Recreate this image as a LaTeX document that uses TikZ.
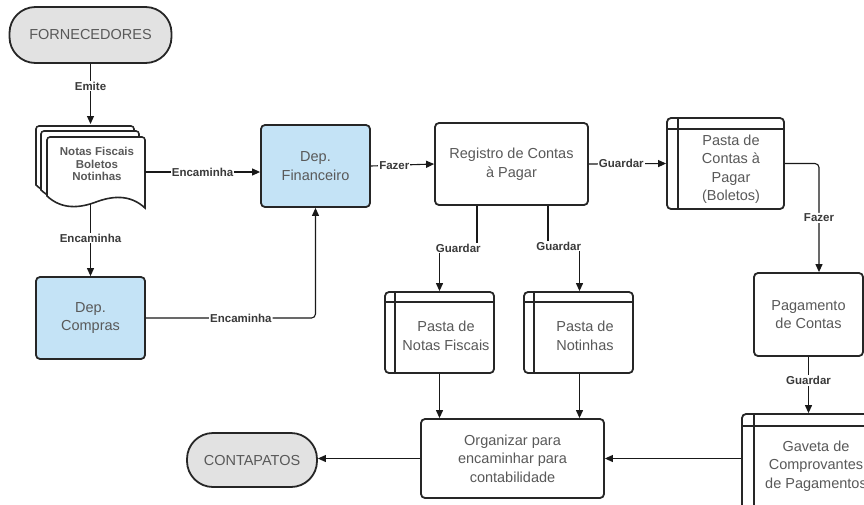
\documentclass[tikz,border=0pt]{standalone}
\usepackage{fontspec}
\setmainfont{Liberation Sans}
\usetikzlibrary{arrows.meta}
\definecolor{edge}{HTML}{262626}
\definecolor{ink}{HTML}{595959}
\definecolor{lblink}{HTML}{3A3A3A}
\definecolor{deptblue}{HTML}{C4E3F6}
\definecolor{termgray}{HTML}{E2E2E2}

\begin{document}
\begin{tikzpicture}[x=1pt,y=-1pt,
  box/.style={draw=edge, line width=1.8pt, rounded corners=4pt, fill=white,
    inner sep=0pt, align=center, text=ink, font=\fontsize{14.5}{18.5}\selectfont},
  dept/.style={box, fill=deptblue},
  term/.style={box, fill=termgray, rounded corners=26pt},
  inner/.style={draw=edge, line width=1.8pt},
  conn/.style={draw=black!90, line width=1.1pt, -{Triangle[length=8pt,width=7pt]}},
  lbl/.style={fill=white, inner sep=1pt, text=lblink,
    font=\fontsize{11.5}{13}\selectfont\bfseries},
  plain/.style={inner sep=0pt, align=center, text=ink,
    font=\fontsize{14.5}{18.5}\selectfont},
  docsheet/.pic={
    \draw[draw=edge, line width=1.6pt, fill=white]
      (0,59) [rounded corners=3pt] -- (0,0) -- (98,0) -- (98,10) [sharp corners] -- (98,71)
      .. controls (83,57) and (65,59) .. (49,65)
      .. controls (33,71) and (15,73) .. (0,59) -- cycle;
  },
]
\clip (0,0) rectangle (864,504);

% stacked documents
\pic at (36,126) {docsheet};
\pic at (41,131) {docsheet};
\pic at (47,137) {docsheet};
\node[plain, font=\fontsize{11.5}{12.5}\selectfont\bfseries] (doctext) at (97,164)
  {Notas Fiscais\\Boletos\\Notinhas};
\coordinate (docTop) at (90.5,124);
\coordinate (docRight) at (145,172);
\coordinate (docBot) at (90.5,204);

% terminals
\node[term, minimum width=162pt, minimum height=56pt] (forn) at (90.5,35) {FORNECEDORES};
\node[term, minimum width=130pt, minimum height=54pt] (conta) at (252,460) {CONTAPATOS};

% departments
\node[dept, minimum width=109pt, minimum height=82pt] (fin) at (315.5,166) {Dep.\\Financeiro};
\node[dept, minimum width=109pt, minimum height=82pt] (comp) at (90.5,318) {Dep.\\Compras};

% processes
\node[box, minimum width=153pt, minimum height=82pt] (reg) at (511.5,164) {Registro de Contas\\à Pagar};
\node[box, minimum width=109pt, minimum height=83pt] (pag) at (808.5,314.5) {Pagamento\\de Contas};
\node[box, minimum width=183pt, minimum height=79pt] (org) at (512.5,458.5)
  {Organizar para\\encaminhar para\\contabilidade};

% internal storage folders
\node[box, minimum width=117pt, minimum height=91pt] (pc) at (725.5,163.5) {};
\node[box, minimum width=109pt, minimum height=81pt] (pnf) at (439.5,332.5) {};
\node[box, minimum width=109pt, minimum height=81pt] (pno) at (578.5,332.5) {};
\node[box, minimum width=135pt, minimum height=104pt] (gav) at (809.5,466) {};

\foreach \s/\d in {pc/12, pnf/11, pno/11, gav/13} {
  \draw[inner] ([xshift=\d pt]\s.north west) -- ([xshift=\d pt]\s.south west);
  \draw[inner] ([yshift=-\d pt]\s.north west) -- ([yshift=-\d pt]\s.north east);
}
\node[plain] (pctext) at (731,169) {Pasta de\\Contas à\\Pagar\\(Boletos)};
\node[plain] (pnftext) at (446,336) {Pasta de\\Notas Fiscais};
\node[plain] (pnotext) at (585,336) {Pasta de\\Notinhas};
\node[plain] (gavtext) at (816,466) {Gaveta de\\Comprovantes\\de Pagamentos};

% connectors
\draw[conn] (forn.south) -- node[lbl, pos=0.37] {Emite} (docTop);
\draw[conn] (docRight) -- node[lbl, pos=0.5] {Encaminha} (docRight -| fin.west);
\draw[conn] (docBot) -- node[lbl, pos=0.47] {Encaminha} (comp.north);
\draw[conn, rounded corners=4pt] (comp.east) -| node[lbl, pos=0.28] {Encaminha} (fin.south);
\draw[conn] (fin.east) -- node[lbl, pos=0.37] {Fazer} (reg.west);
\draw[conn] (reg.east) -- node[lbl, pos=0.42] {Guardar} (pc.west);
\draw[conn, rounded corners=4pt] (pc.east) -| node[lbl, pos=0.75] {Fazer} ([xshift=10.5pt]pag.north);
\draw[conn] ([xshift=-34.5pt]reg.south) -- ++(0,42) -| node[lbl, pos=0.25] {Guardar} (pnf.north);
\draw[conn] ([xshift=36.5pt]reg.south) -- ++(0,40) -| node[lbl, pos=0.17] {Guardar} ([xshift=1pt]pno.north);
\draw[conn] (pnf.south) -- (pnf.south |- org.north);
\draw[conn] ([xshift=1pt]pno.south) -- ([xshift=1pt]pno.south |- org.north);
\draw[conn] (pag.south) -- node[lbl, pos=0.42] {Guardar} (pag.south |- gav.north);
\draw[conn] (org.east -| gav.west) -- (org.east);
\draw[conn] (org.west) -- (org.west -| conta.east);
\end{tikzpicture}
\end{document}
